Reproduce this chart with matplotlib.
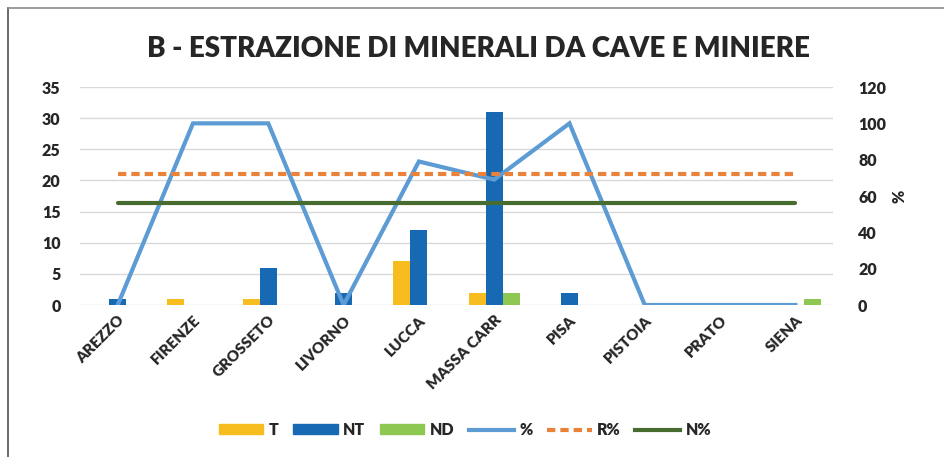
"""Estrazione di minerali da cave e miniere - bar + line combo chart"""

import numpy as np
import matplotlib.pyplot as plt
from matplotlib.patches import Patch
from matplotlib.lines import Line2D

plt.rcParams['font.family'] = ['Lato', 'DejaVu Sans']
plt.rcParams['font.weight'] = 'heavy'

# Data
provinces = ['AREZZO', 'FIRENZE', 'GROSSETO', 'LIVORNO', 'LUCCA',
             'MASSA CARR', 'PISA', 'PISTOIA', 'PRATO', 'SIENA']
t_vals = [0, 1, 1, 0, 7, 2, 0, 0, 0, 0]
nt_vals = [1, 0, 6, 2, 12, 31, 2, 0, 0, 0]
nd_vals = [0, 0, 0, 0, 0, 2, 0, 0, 0, 1]
pct = [0, 100, 100, 0, 79, 69, 100, 0, 0, 0]
r_pct = [72] * len(provinces)
n_pct = [56] * len(provinces)

# Colours
C_T = '#F7BC1E'
C_NT = '#1869B4'
C_ND = '#8EC752'
C_PCT = '#5C9BD3'
C_R = '#EA8339'
C_N = '#486C2F'
TXT = '#262626'
LW = 3.0
DASH = (0, (2.0, 1.2))

fig = plt.figure(figsize=(9.45, 4.57), dpi=100)
ax = fig.add_axes([0.0847, 0.3326, 0.7968, 0.4770])
ax2 = ax.twinx()

x = np.arange(len(provinces))
w = 0.226
ax.bar(x - w, t_vals, w, color=C_T, zorder=2)
ax.bar(x, nt_vals, w, color=C_NT, zorder=2)
ax.bar(x + w, nd_vals, w, color=C_ND, zorder=2)

ax.set_xlim(-0.5, len(provinces) - 0.5)
ax.set_ylim(0, 35)
ax.set_yticks(range(0, 36, 5))
ax.yaxis.grid(True, color='#d9d9d9', linewidth=1)
ax.set_axisbelow(True)
ax.set_xticks(x)
ax.set_xticklabels(provinces, rotation=45, ha='right', rotation_mode='anchor',
                   fontsize=11, color=TXT, fontweight='heavy')
ax.tick_params(axis='y', length=0, pad=14, labelsize=11.5, labelcolor=TXT)
ax.tick_params(axis='x', length=0, pad=6)
for lab in ax.get_yticklabels():
    lab.set_fontweight('heavy')

ax2.plot(x, pct, color=C_PCT, linewidth=LW, solid_joinstyle='miter', zorder=3)
ax2.plot(x, r_pct, color=C_R, linewidth=LW, linestyle=DASH, zorder=3)
ax2.plot(x, n_pct, color=C_N, linewidth=LW, solid_capstyle='round', zorder=3)
ax2.set_ylim(0, 120)
ax2.set_yticks(range(0, 121, 20))
ax2.tick_params(axis='y', length=0, pad=18, labelsize=11.5, labelcolor=TXT)
for lab in ax2.get_yticklabels():
    lab.set_fontweight('heavy')
ax2.set_ylabel('%', fontsize=11.5, color=TXT, fontweight='heavy', labelpad=4)

for a in (ax, ax2):
    for s in a.spines.values():
        s.set_visible(False)

fig.text(0.5065, 0.893, 'B - ESTRAZIONE DI MINERALI DA CAVE E MINIERE',
         ha='center', va='center', fontsize=20, fontweight='heavy', color=TXT)

handles = [
    Patch(color=C_T, label='T'),
    Patch(color=C_NT, label='NT'),
    Patch(color=C_ND, label='ND'),
    Line2D([], [], color=C_PCT, linewidth=LW, label='%'),
    Line2D([], [], color=C_R, linewidth=LW, linestyle=DASH, label='R%'),
    Line2D([], [], color=C_N, linewidth=LW, label='N%'),
]
leg = fig.legend(handles=handles, loc='center', bbox_to_anchor=(0.492, 0.059), ncol=6,
                 frameon=False, handlelength=2.8, handleheight=0.6,
                 columnspacing=0.9, handletextpad=0.35,
                 prop={'size': 11.5, 'weight': 'heavy'})
for txt in leg.get_texts():
    txt.set_color(TXT)

# Chart frame (top and left edges visible in reference)
fig.add_artist(Line2D([8 / 945, 8 / 945], [0, 1 - 7.5 / 457], color='#505050', linewidth=1.2))
fig.add_artist(Line2D([8 / 945, 1], [1 - 7.5 / 457, 1 - 7.5 / 457], color='#8c8c8c', linewidth=1.2))

fig.savefig('out.png', dpi=100, facecolor='white')
